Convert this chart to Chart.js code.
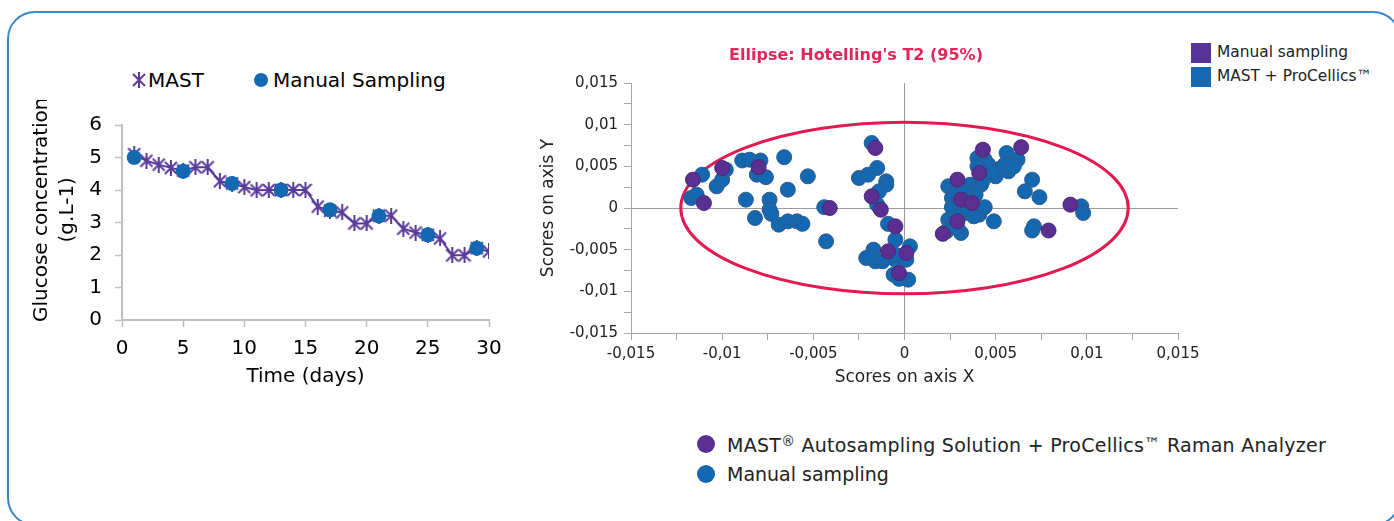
<!DOCTYPE html>
<html>
<head>
<meta charset="utf-8">
<script src="https://cdn.jsdelivr.net/npm/chart.js@4.4.1/dist/chart.umd.min.js"></script>
<style>
  body { margin: 0; width: 1394px; height: 521px; overflow: hidden; background: #fff; position: relative;
         font-family: 'DejaVu Sans', sans-serif; color: #222; }
  .frame { position: absolute; left: 7px; top: 11px; width: 1394px; height: 515px; box-sizing: border-box;
           border: 2px solid #3a87c7; border-radius: 28px; }
  canvas { position: absolute; }
  .lg { position: absolute; white-space: nowrap; }
  .dot { position: absolute; border-radius: 50%; }
  .sq { position: absolute; width: 20px; height: 20px; }
  sup { font-size: 0.72em; vertical-align: 0.45em; line-height: 0; }
  .tm { font-size: 0.85em; vertical-align: 0.2em; }
</style>
</head>
<body>
<div class="frame"></div>

<!-- left chart legend -->
<svg class="lg" style="left:132px;top:72px" width="14" height="16">
  <path d="M1 2 L13 14 M13 2 L1 14 M7 0 L7 16" stroke="#5a3b9c" stroke-width="2" fill="none"/>
</svg>
<div class="lg" style="left:148px;top:68px;font-size:20px;line-height:24px;color:#000">MAST</div>
<div class="dot" style="left:254px;top:73px;width:14px;height:14px;background:#1467b1"></div>
<div class="lg" style="left:273px;top:68px;font-size:20px;line-height:24px;color:#000">Manual Sampling</div>

<!-- right chart legend -->
<div class="sq" style="left:1191px;top:43px;background:#56339a"></div>
<div class="lg" style="left:1217px;top:42px;font-size:15.4px;line-height:20px">Manual sampling</div>
<div class="sq" style="left:1191px;top:67px;background:#1668b3"></div>
<div class="lg" style="left:1217px;top:66px;font-size:15.4px;line-height:20px">MAST + ProCellics&#8482;</div>

<!-- bottom legend -->
<div class="dot" style="left:697px;top:435px;width:18px;height:18px;background:#5b2e92"></div>
<div class="lg" style="left:727px;top:432px;font-size:19px;line-height:24px;letter-spacing:0.27px">MAST<sup>&#174;</sup> Autosampling Solution + ProCellics<span class="tm">&#8482;</span> Raman Analyzer</div>
<div class="dot" style="left:697px;top:465px;width:18px;height:18px;background:#1467b1"></div>
<div class="lg" style="left:727px;top:462px;font-size:19px;line-height:24px">Manual sampling</div>

<canvas id="glucose" width="503" height="300" style="left:16px;top:100px"></canvas>
<canvas id="scores" width="674" height="370" style="left:534px;top:30px"></canvas>

<script>
// glucose over time
const days = [1, 2, 3, 4, 5, 6, 7, 8, 9, 10, 11, 12, 13, 14, 15, 16, 17, 18, 19, 20, 21, 22, 23, 24, 25, 26, 27, 28, 29, 30];
const mastGlucose = [5.1, 4.9, 4.78, 4.68, 4.6, 4.7, 4.7, 4.27, 4.2, 4.09, 3.99, 4.0, 4.0, 4.0, 4.0, 3.49, 3.36, 3.31, 2.97, 2.97, 3.21, 3.21, 2.81, 2.69, 2.62, 2.51, 1.99, 1.99, 2.21, 2.11];
const manualDays = [1, 5, 9, 13, 17, 21, 25, 29];
const manualGlucose = [5.0, 4.58, 4.2, 4.0, 3.39, 3.2, 2.62, 2.21];
const glucoseXTicks = ['0', '5', '10', '15', '20', '25', '30'];
const glucoseYTicks = ['0', '1', '2', '3', '4', '5', '6'];

// PCA scores (x, y)
const mastRamanScores = [
  [-0.0116, 0.0034], [-0.0110, 0.0006], [-0.0100, 0.0048], [-0.0080, 0.0049], [-0.0041, 0.0000],
  [-0.0016, 0.0072], [-0.0018, 0.0014], [-0.0013, -0.0002], [-0.0005, -0.0022], [-0.0009, -0.0052],
  [0.0001, -0.0054], [-0.0003, -0.0078], [0.0043, 0.0070], [0.0064, 0.0073], [0.0041, 0.0042],
  [0.0029, 0.0034], [0.0031, 0.0010], [0.0037, 0.0006], [0.0029, -0.0016], [0.0021, -0.0031],
  [0.0091, 0.0004], [0.0079, -0.0027]
];
const manualScores = [
  [-0.0111, 0.0040], [-0.0117, 0.0012], [-0.0114, 0.0016], [-0.0103, 0.0026], [-0.0100, 0.0034],
  [-0.0098, 0.0046], [-0.0089, 0.0057], [-0.0085, 0.0058], [-0.0079, 0.0057], [-0.0081, 0.0040],
  [-0.0076, 0.0037], [-0.0066, 0.0061], [-0.0053, 0.0038], [-0.0064, 0.0022], [-0.0087, 0.0010],
  [-0.0074, 0.0010], [-0.0074, -0.0002], [-0.0073, -0.0007], [-0.0082, -0.0012], [-0.0069, -0.0020],
  [-0.0064, -0.0016], [-0.0059, -0.0016], [-0.0056, -0.0019], [-0.0044, 0.0001], [-0.0043, -0.0040],
  [-0.0018, 0.0078], [-0.0025, 0.0036], [-0.0020, 0.0040], [-0.0015, 0.0048], [-0.0010, 0.0032],
  [-0.0010, 0.0028], [-0.0014, 0.0020], [-0.0015, 0.0004], [-0.0009, -0.0019], [-0.0005, -0.0038],
  [0.0003, -0.0046], [-0.0017, -0.0050], [-0.0021, -0.0060], [-0.0016, -0.0064], [-0.0012, -0.0064],
  [-0.0005, -0.0062], [0.0001, -0.0062], [-0.0019, -0.0058], [-0.0005, -0.0056], [-0.0006, -0.0080],
  [0.0002, -0.0086], [-0.0003, -0.0085],
  [0.0040, 0.0060], [0.0044, 0.0058], [0.0056, 0.0066], [0.0062, 0.0058], [0.0046, 0.0042],
  [0.0050, 0.0038], [0.0055, 0.0052], [0.0057, 0.0044], [0.0024, 0.0026], [0.0030, 0.0028],
  [0.0036, 0.0028], [0.0042, 0.0028], [0.0039, 0.0016], [0.0026, 0.0012], [0.0029, 0.0018],
  [0.0034, 0.0016], [0.0026, 0.0001], [0.0033, -0.0006], [0.0041, -0.0008], [0.0044, 0.0001],
  [0.0038, -0.0010], [0.0024, -0.0014], [0.0025, -0.0022], [0.0031, -0.0030], [0.0023, -0.0028],
  [0.0049, -0.0016], [0.0070, 0.0034], [0.0066, 0.0020], [0.0074, 0.0013], [0.0097, 0.0002],
  [0.0098, -0.0006], [0.0071, -0.0022], [0.0070, -0.0027],
  [0.0032, 0.0022], [0.0036, 0.0008], [0.0030, 0.0005], [0.0028, -0.0010], [0.0035, -0.0002],
  [0.0043, 0.0033], [0.0052, 0.0047], [0.0046, 0.0052], [0.0040, 0.0050], [0.0027, -0.0018],
  [0.0029, -0.0024], [0.0048, 0.0043], [0.0060, 0.0050]
];
const scoreTicks = ['-0,015', '-0,01', '-0,005', '0', '0,005', '0,01', '0,015'];
const ellipseCenter = [0, 0];
const ellipseRadii = [0.01227, 0.0103];

const purple = '#5a3b9c';
const gray = '#bfbfbf';
Chart.defaults.font.family = "'DejaVu Sans', sans-serif";
Chart.defaults.color = '#000';

// excel-like star marker
const star = document.createElement('canvas');
star.width = 14; star.height = 16;
const sc = star.getContext('2d');
sc.strokeStyle = purple; sc.lineWidth = 2;
sc.beginPath();
sc.moveTo(1, 2); sc.lineTo(13, 14);
sc.moveTo(13, 2); sc.lineTo(1, 14);
sc.moveTo(7, 0); sc.lineTo(7, 16);
sc.stroke();

// two figure spaces in front: lifts the rotated title a little, as in the original
const yTitle = ['\u2007\u2007Glucose concentration', '\u2007\u2007(g.L-1)'];

new Chart(document.getElementById('glucose'), {
  type: 'line',
  data: {
    datasets: [{
      label: 'Manual Sampling',
      data: manualDays.map((d, i) => ({ x: d, y: manualGlucose[i] })),
      showLine: false,
      pointRadius: 7.5,
      pointBackgroundColor: '#1467b1',
      pointBorderWidth: 0,
      order: 1
    }, {
      label: 'MAST',
      data: days.map((d, i) => ({ x: d, y: mastGlucose[i] })),
      borderColor: purple,
      borderWidth: 2,
      pointStyle: star,
      order: 2
    }]
  },
  options: {
    responsive: false,
    animation: false,
    layout: { padding: { top: 21, right: 30 } },
    plugins: { legend: { display: false }, tooltip: { enabled: false } },
    scales: {
      x: {
        type: 'linear', min: 0, max: 30,
        ticks: { stepSize: 5, font: { size: 20 }, padding: 10, maxRotation: 0,
                 callback: (v, i) => glucoseXTicks[i] },
        grid: { drawOnChartArea: false, tickLength: 7, tickColor: gray, tickWidth: 1.5 },
        border: { color: gray, width: 2 },
        title: { display: true, text: 'Time (days)', font: { size: 20 }, padding: { top: 0, bottom: 11 } },
        afterFit: s => { s.height = 80; }
      },
      y: {
        min: 0, max: 6,
        ticks: { stepSize: 1, font: { size: 20 }, padding: 13, callback: (v, i) => glucoseYTicks[i] },
        grid: { drawOnChartArea: false, tickLength: 7, tickColor: gray, tickWidth: 1.5 },
        border: { color: gray, width: 2 },
        title: { display: true, text: yTitle,
                 font: { size: 20, lineHeight: 1.3 }, padding: { top: 13, bottom: 0 } },
        afterFit: s => { s.width = 106; }
      }
    }
  }
});

const hotelling = {
  id: 'hotelling',
  beforeDatasetsDraw(chart) {
    const { ctx, scales: { x, y } } = chart;
    const cx = x.getPixelForValue(ellipseCenter[0]);
    const cy = y.getPixelForValue(ellipseCenter[1]);
    const rx = Math.abs(x.getPixelForValue(ellipseCenter[0] + ellipseRadii[0]) - cx);
    const ry = Math.abs(y.getPixelForValue(ellipseCenter[1] + ellipseRadii[1]) - cy);
    ctx.save();
    ctx.strokeStyle = '#e3194f';
    ctx.lineWidth = 3;
    ctx.beginPath();
    ctx.ellipse(cx, cy, rx, ry, 0, 0, Math.PI * 2);
    ctx.stroke();
    ctx.restore();
  }
};

const zeroLine = c => (c.tick && Math.abs(c.tick.value) < 1e-9) ? '#9a9a9a' : 'rgba(0,0,0,0)';
const scoreLabel = (v, i) => (i % 2 === 0 ? scoreTicks[i / 2] : '');

new Chart(document.getElementById('scores'), {
  type: 'scatter',
  data: {
    datasets: [{
      label: 'MAST® Autosampling Solution + ProCellics™ Raman Analyzer',
      data: mastRamanScores.map(p => ({ x: p[0], y: p[1] })),
      pointRadius: 7.5,
      backgroundColor: '#5b2e92',
      borderColor: '#4a2a78',
      borderWidth: 1,
      order: 1
    }, {
      label: 'Manual sampling',
      data: manualScores.map(p => ({ x: p[0], y: p[1] })),
      pointRadius: 7.5,
      backgroundColor: '#1467b1',
      borderColor: '#2f5d8c',
      borderWidth: 1,
      order: 2
    }]
  },
  options: {
    responsive: false,
    animation: false,
    layout: { padding: { right: 30 } },
    plugins: {
      legend: { display: false },
      tooltip: { enabled: false },
      title: {
        display: true, text: "Ellipse: Hotelling's T2 (95%)", color: '#e3265a',
        font: { size: 16, weight: 'bold' }, padding: { top: 16.4, bottom: 17.4 }
      }
    },
    scales: {
      x: {
        min: -0.015, max: 0.015,
        ticks: { stepSize: 0.0025, autoSkip: false, maxRotation: 0, font: { size: 15 }, color: '#222',
                 padding: 5, callback: scoreLabel },
        grid: { color: zeroLine, tickColor: '#a6a6a6', tickLength: 7 },
        border: { color: '#a6a6a6' },
        title: { display: true, text: 'Scores on axis X', font: { size: 17 }, color: '#222',
                 padding: { top: 0, bottom: 12 } },
        afterFit: s => { s.height = 67; }
      },
      y: {
        min: -0.015, max: 0.015,
        ticks: { stepSize: 0.0025, autoSkip: false, font: { size: 15 }, color: '#222',
                 padding: 6, callback: scoreLabel },
        grid: { color: zeroLine, tickColor: '#a6a6a6', tickLength: 7 },
        border: { color: '#a6a6a6' },
        title: { display: true, text: 'Scores on axis Y', font: { size: 17 }, color: '#222',
                 padding: { top: 4, bottom: 0 } },
        afterFit: s => { s.width = 97; }
      }
    }
  },
  plugins: [hotelling]
});
</script>
</body>
</html>
